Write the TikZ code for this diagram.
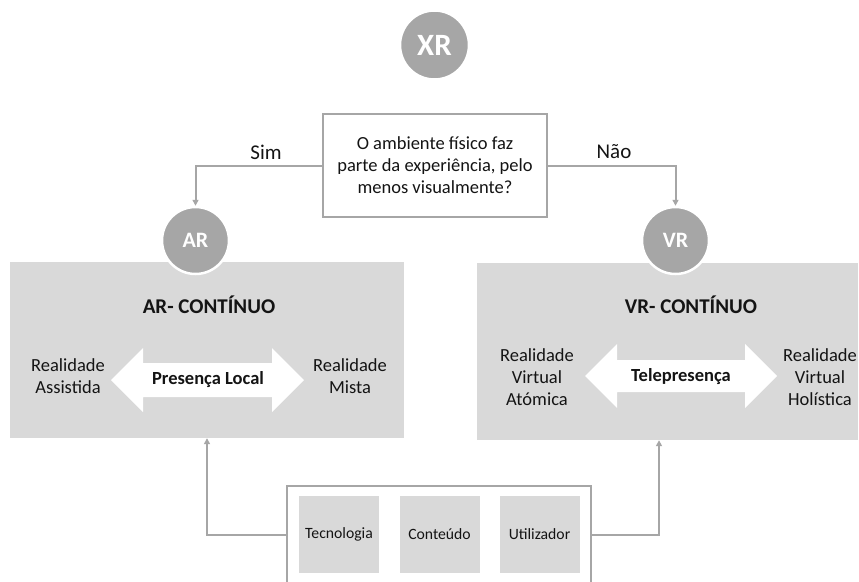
\documentclass[tikz,border=0pt]{standalone}
\usepackage{fontspec}
\setmainfont{Carlito}
\usetikzlibrary{arrows.meta,calc}
\definecolor{badgegray}{HTML}{A6A6A6}
\definecolor{panelgray}{HTML}{D9D9D9}
\definecolor{conngray}{HTML}{A6A6A6}
\definecolor{ink}{HTML}{141414}
\begin{document}
\begin{tikzpicture}[x=1pt,y=-1pt,
  badge/.style={circle, fill=badgegray, draw=white, line width=2.5pt,
    minimum size=67pt, inner sep=0pt, text=white, font=\fontsize{22}{22}\selectfont\bfseries},
  panel/.style={fill=panelgray, draw=none, inner sep=0pt},
  qbox/.style={draw=conngray, line width=2pt, fill=white, inner sep=0pt,
    align=center, text=ink, font=\fontsize{18.5}{22}\selectfont},
  conn/.style={draw=conngray, line width=2pt, -{Triangle[length=6pt,width=6pt]}},
  lbl/.style={text=ink, align=center, font=\fontsize{18.5}{22}\selectfont},
  branch/.style={text=ink, font=\fontsize{21}{24}\selectfont},
  title/.style={text=ink, font=\fontsize{21}{24}\selectfont\bfseries},
  arrowlbl/.style={text=ink, font=\fontsize{18.5}{21}\selectfont\bfseries},
  factor/.style={fill=panelgray, draw=none, minimum width=80pt, minimum height=77pt,
    inner sep=0pt, text=ink, font=\fontsize{15.7}{18}\selectfont},
  twoway/.style={fill=white, draw=none}
]
\clip (0,0) rectangle (859,581);
\fill[white] (0,0) rectangle (859,581);

% top badge and the question
\node[badge, minimum size=69pt, font=\fontsize{31}{31}\selectfont\bfseries] (xr) at (434.5,45) {XR};
\node[qbox, minimum width=224pt, minimum height=103pt] (q) at (435,165.5)
  {O ambiente físico faz\\parte da experiência, pelo\\menos visualmente?};

% the two continuum panels
\node[panel, minimum width=394pt, minimum height=176pt] (lpanel) at (207,350) {};
\node[panel, minimum width=381pt, minimum height=177pt] (rpanel) at (667.5,351.5) {};

% AR / VR badges over the panels
\node[badge] (ar) at (195.5,240.5) {AR};
\node[badge] (vr) at (675.5,240.5) {VR};

% decision branches
\draw[conn] (q.west) -| (ar.north);
\draw[conn] (q.east) -| (vr.north);
\node[branch] (sim) at (266,152) {Sim};
\node[branch] (nao) at (614,152) {Não};

% AR continuum
\node[title] (art) at (209,305) {AR- CONTÍNUO};
\fill[twoway] (111,380) -- (143,348) -- (143,363) -- (272,363) -- (272,348)
  -- (304,380) -- (272,412) -- (272,397) -- (143,397) -- (143,412) -- cycle;
\node[arrowlbl] (pl) at (208,380) {Presença Local};
\node[lbl] (ra) at (68,376) {Realidade\\Assistida};
\node[lbl] (rm) at (350,376) {Realidade\\Mista};

% VR continuum
\node[title] (vrt) at (691,305) {VR- CONTÍNUO};
\fill[twoway] (585,376) -- (617,344) -- (617,360) -- (745,360) -- (745,344)
  -- (777,376) -- (745,408) -- (745,392) -- (617,392) -- (617,408) -- cycle;
\node[arrowlbl] (tp) at (681,377) {Telepresença};
\node[lbl] (rva) at (537,377) {Realidade\\Virtual\\Atómica};
\node[lbl] (rvh) at (820,377) {Realidade\\Virtual\\Holística};

% factors at the bottom
\node[draw=conngray, line width=2pt, fill=white, minimum width=304pt,
  minimum height=120pt, inner sep=0pt] (base) at (439,546) {};
\node[factor] (tec) at (339,534.5) {Tecnologia};
\node[factor] (con) at (439.5,534.5) {Conteúdo};
\node[factor] (uti) at (539.5,534.5) {Utilizador};

\draw[conn] (tec.center -| base.west) -| (lpanel.south);
\draw[conn] (uti.center -| base.east) -| ([xshift=-8.5pt]rpanel.south);
\end{tikzpicture}
\end{document}
